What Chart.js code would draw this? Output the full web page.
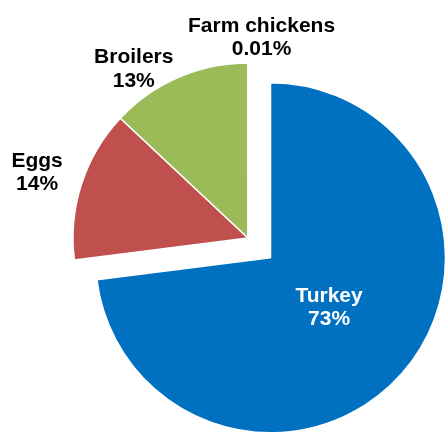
<!DOCTYPE html>
<html>
<head>
<meta charset="utf-8">
<script src="https://cdn.jsdelivr.net/npm/chart.js@4"></script>
<style>
  body { margin: 0; background: #fff; }
  #wrap { width: 446px; height: 434px; }
</style>
</head>
<body>
<div id="wrap"><canvas id="chart"></canvas></div>
<script>
const categories = ['Turkey', 'Eggs', 'Broilers', 'Farm chickens'];
const shares = [73, 14, 13, 0.01];
const sliceColors = ['#0070C0', '#C0504D', '#9BBB59', '#F79646'];
const labelColors = ['#ffffff', '#000000', '#000000', '#000000'];
// where each label sits: [angle nudge in degrees, distance as fraction of radius]
const labelSpots = [[1.6, 0.633], [-2.25, 1.252], [-11.6, 1.137], [4, 1.114]];

// pull the turkey slice out of the pie without growing it
const explode = {
  id: 'explode',
  afterUpdate(chart) {
    const arc = chart.getDatasetMeta(0).data[0];
    const mid = (arc.startAngle + arc.endAngle) / 2;
    arc.x += Math.cos(mid) * 30;
    arc.y += Math.sin(mid) * 30;
  }
};

const sliceLabels = {
  id: 'sliceLabels',
  afterDatasetsDraw(chart) {
    const {ctx, chartArea} = chart;
    const cx = (chartArea.left + chartArea.right) / 2;
    const cy = (chartArea.top + chartArea.bottom) / 2;
    ctx.save();
    ctx.font = 'bold 21px "Liberation Sans", Arial, sans-serif';
    ctx.textAlign = 'center';
    ctx.textBaseline = 'alphabetic';
    chart.getDatasetMeta(0).data.forEach((arc, i) => {
      const a = (arc.startAngle + arc.endAngle) / 2 + labelSpots[i][0] * Math.PI / 180;
      const r = arc.outerRadius * labelSpots[i][1];
      const x = cx + Math.cos(a) * r;
      const y = cy + Math.sin(a) * r;
      ctx.fillStyle = labelColors[i];
      ctx.fillText(categories[i], x, y - 11.75);
      ctx.fillText(shares[i] + '%', x, y + 11.75);
    });
    ctx.restore();
  }
};

const ctx = document.getElementById('chart');
new Chart(ctx, {
  type: 'pie',
  data: {
    labels: categories,
    datasets: [{
      data: shares,
      backgroundColor: sliceColors,
      borderColor: '#ffffff',
      borderWidth: 1.5
    }]
  },
  options: {
    responsive: true,
    maintainAspectRatio: false,
    animation: false,
    radius: 175,
    layout: { padding: { left: 50, top: 42, right: 0, bottom: 0 } },
    plugins: {
      legend: { display: false },
      tooltip: { enabled: false }
    }
  },
  plugins: [explode, sliceLabels]
});
</script>
</body>
</html>
